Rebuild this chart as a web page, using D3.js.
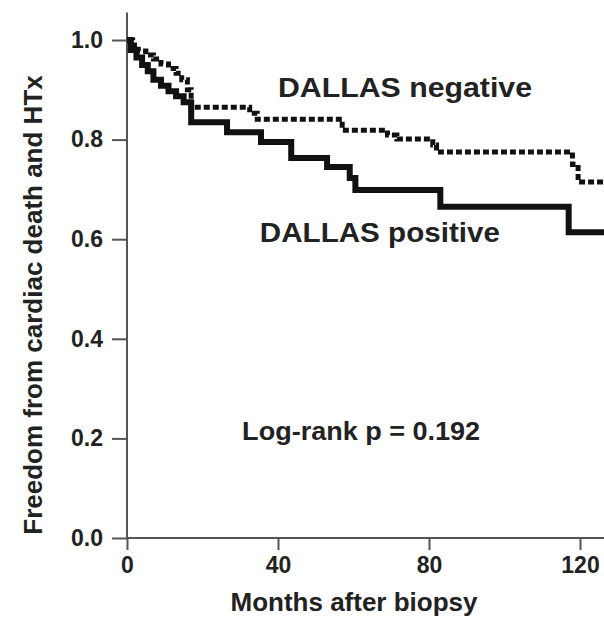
<!DOCTYPE html>
<html>
<head>
<meta charset="utf-8">
<script src="https://cdn.jsdelivr.net/npm/d3@7"></script>
<style>
    body { margin: 0; background: #fff; }
    svg { display: block; font-family: "Liberation Sans", Arial, sans-serif; font-weight: bold; }
</style>
</head>
<body>
<svg id="chart"></svg>
<script>
// Kaplan-Meier: freedom from cardiac death and HTx, by DALLAS result

// DALLAS positive (solid line) - event months and survival after each step
const posMonths = [0, 1, 2.5, 4, 5.5, 7, 9, 11, 13, 15, 17, 26.5, 35.5, 43.5, 53, 59, 60.5, 83, 117];
const posSurv = [1.0, 0.98, 0.965, 0.95, 0.937, 0.92, 0.908, 0.897, 0.887, 0.875, 0.835, 0.815, 0.795, 0.763, 0.745, 0.723, 0.699, 0.665, 0.614];

// DALLAS negative (dotted line)
const negMonths = [0, 1.5, 3, 5, 7, 9, 11, 13, 14.5, 16, 17, 32.5, 34.5, 57, 69, 71.5, 81, 82, 118, 119.5];
const negSurv = [1.0, 0.99, 0.978, 0.97, 0.962, 0.952, 0.943, 0.933, 0.92, 0.9, 0.865, 0.853, 0.841, 0.819, 0.809, 0.801, 0.789, 0.775, 0.75, 0.715];

// follow-up runs off the right edge of the picture
const lastMonth = 127;

const xTicks = [0, 40, 80, 120];
const yTicks = [0.0, 0.2, 0.4, 0.6, 0.8, 1.0];

const width = 604;
const height = 618;

let svg = d3.select('#chart')
    .attr('width', width)
    .attr('height', height);

svg.append('rect')
    .attr('width', width)
    .attr('height', height)
    .attr('fill', '#fff');

let xScale = d3.scaleLinear()
    .domain([0, 120])
    .range([127, 580]);

let yScale = d3.scaleLinear()
    .domain([0, 1])
    .range([538, 40]);

// zip months + survival into step points, carry last value to end
function toSteps(months, surv) {
    let pts = months.map((m, i) => ({ m: m, s: surv[i] }));
    pts.push({ m: lastMonth, s: surv[surv.length - 1] });
    return pts;
}

let stepLine = d3.line()
    .x(d => xScale(d.m))
    .y(d => yScale(d.s))
    .curve(d3.curveStepAfter);

//axes
let yAxis = d3.axisLeft(yScale)
    .tickValues(yTicks)
    .tickFormat(d3.format('.1f'))
    .tickSize(15)
    .tickSizeOuter(0)
    .tickPadding(9);

let xAxis = d3.axisBottom(xScale)
    .tickValues(xTicks)
    .tickFormat(d3.format('d'))
    .tickSize(12)
    .tickSizeOuter(0)
    .tickPadding(7);

let gy = svg.append('g')
    .attr('transform', `translate(${xScale(0)},0)`)
    .call(yAxis);

let gx = svg.append('g')
    .attr('transform', `translate(0,${yScale(0)})`)
    .call(xAxis);

// stretch the axis lines the way the figure has them
gy.select('.domain').attr('d', `M0,${yScale(1.055)}V${yScale(0)}`);
gx.select('.domain').attr('d', `M${xScale(0)},0H${width}`);

[gy, gx].forEach(g => {
    g.selectAll('.domain, .tick line')
        .attr('stroke', '#555')
        .attr('stroke-width', 2);
    g.selectAll('.tick text')
        .attr('fill', '#222')
        .attr('font-size', '23px')
        .attr('font-weight', 'bold');
});

// curves
svg.append('path')
    .attr('d', stepLine(toSteps(negMonths, negSurv)))
    .attr('fill', 'none')
    .attr('stroke', '#111')
    .attr('stroke-width', 5)
    .attr('stroke-dasharray', '6,3');

svg.append('path')
    .attr('d', stepLine(toSteps(posMonths, posSurv)))
    .attr('fill', 'none')
    .attr('stroke', '#111')
    .attr('stroke-width', 6);

// labels on the plot
svg.append('text')
    .attr('x', xScale(40))
    .attr('y', yScale(0.886))
    .attr('font-size', '28px')
    .attr('textLength', 254)
    .attr('lengthAdjust', 'spacingAndGlyphs')
    .attr('fill', '#222')
    .text('DALLAS negative');

svg.append('text')
    .attr('x', xScale(35.2))
    .attr('y', yScale(0.594))
    .attr('font-size', '28px')
    .attr('textLength', 240)
    .attr('lengthAdjust', 'spacingAndGlyphs')
    .attr('fill', '#222')
    .text('DALLAS positive');

svg.append('text')
    .attr('x', xScale(30.5))
    .attr('y', yScale(0.197))
    .attr('font-size', '25px')
    .attr('textLength', 238)
    .attr('lengthAdjust', 'spacingAndGlyphs')
    .attr('fill', '#222')
    .text('Log-rank p = 0.192');

//axis titles
svg.append('text')
    .attr('x', 354)
    .attr('y', 611)
    .attr('text-anchor', 'middle')
    .attr('font-size', '26px')
    .attr('fill', '#222')
    .text('Months after biopsy');

svg.append('text')
    .attr('transform', 'translate(42,305) rotate(-90)')
    .attr('text-anchor', 'middle')
    .attr('font-size', '26px')
    .attr('fill', '#222')
    .text('Freedom from cardiac death and HTx');
</script>
</body>
</html>
